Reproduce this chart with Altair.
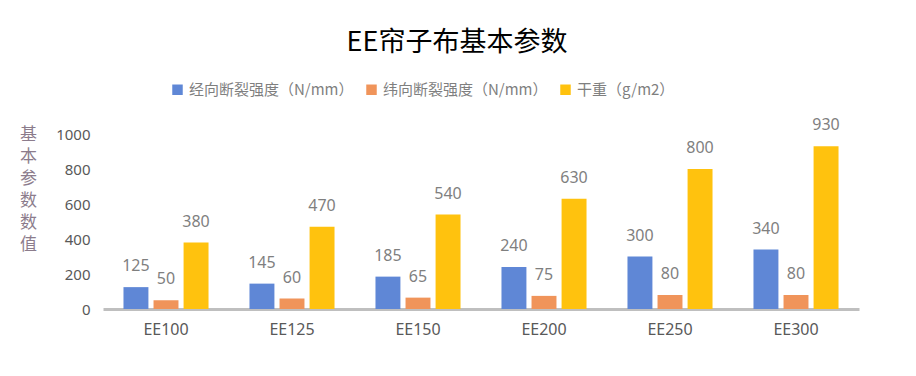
import altair as alt
import pandas as pd

categories = ["EE100", "EE125", "EE150", "EE200", "EE250", "EE300"]
series_names = ["经向断裂强度（N/mm）", "纬向断裂强度（N/mm）", "干重（g/m2）"]
warp = [125, 145, 185, 240, 300, 340]
weft = [50, 60, 65, 75, 80, 80]
weight = [380, 470, 540, 630, 800, 930]
y_ticks = [0, 200, 400, 600, 800, 1000]
colors = ["#5F87D6", "#F0945A", "#FFC20E"]

rows = []
for i, c in enumerate(categories):
    for s, vals in zip(series_names, [warp, weft, weight]):
        rows.append({"cat": c, "series": s, "value": vals[i]})
df = pd.DataFrame(rows)

cjk = "Noto Sans CJK SC"
num = "Noto Sans"

x = alt.X("cat:N", sort=categories, title=None,
          scale=alt.Scale(paddingInner=0.325, paddingOuter=0.1625),
          axis=alt.Axis(labelAngle=0, labelFont=num, labelFontSize=16, labelColor="#595959",
                        domainColor="#BFBFBF", domainWidth=3, ticks=False, labelPadding=12))
xo = alt.XOffset("series:N", sort=series_names, scale=alt.Scale(paddingInner=0.17))
y = alt.Y("value:Q", scale=alt.Scale(domain=[0, 1000]),
          axis=alt.Axis(values=y_ticks, format="d", grid=False, domain=False, ticks=False,
                        labelOverlap=False,
                        labelFont=num, labelFontSize=15, labelColor="#595959", labelPadding=13,
                        title=["基", "本", "参", "数", "数", "值"], titleAngle=0,
                        titleFont=cjk, titleFontSize=17, titleFontWeight="normal",
                        titleColor="#8C7C8C", titleLineHeight=22,
                        titleX=-75, titleY=-8, titleAlign="center", titleBaseline="top"))

color = alt.Color("series:N", sort=series_names, scale=alt.Scale(domain=series_names, range=colors),
                  legend=alt.Legend(orient="none", direction="horizontal", legendX=67, legendY=-52,
                                    title=None, symbolType="square", symbolSize=110,
                                    symbolStrokeWidth=0, labelFont=cjk, labelFontSize=15,
                                    labelColor="#7F7F7F", columnPadding=10, labelLimit=400,
                                    symbolOffset=0))

bars = alt.Chart(df).mark_bar().encode(x=x, xOffset=xo, y=y, color=color)
labels = alt.Chart(df).mark_text(font=num, fontSize=16, color="#7F7F7F", baseline="alphabetic", dy=-16).encode(
    x=x, xOffset=xo, y=y, text="value:Q")

chart = alt.layer(bars, labels).properties(
    width=756, height=175,
    title=alt.TitleParams("EE帘子布基本参数", font=cjk, fontSize=27, fontWeight="normal",
                          color="#000000", anchor="middle", dx=-24, offset=25),
    autosize=alt.AutoSizeParams(type="none"),
    padding={"left": 103, "top": 134, "right": 57, "bottom": 67},
).configure_view(stroke=None)

chart.save("out.html", embed_options={"renderer": "svg", "actions": False})
